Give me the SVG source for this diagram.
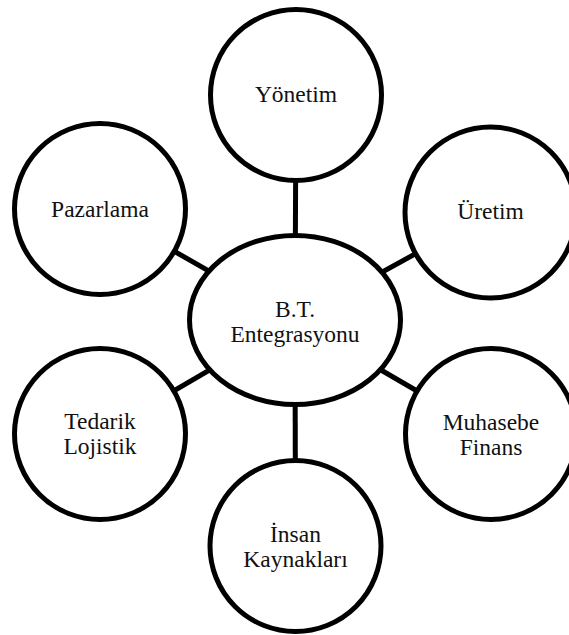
<svg xmlns="http://www.w3.org/2000/svg" width="569" height="635" viewBox="0 0 569 635">
<style>
.n{fill:#fff;stroke:#000;stroke-width:5}
.c line{stroke:#000;stroke-width:5}
text{font-family:"Liberation Serif","Times New Roman",serif;font-size:23.5px;fill:#111;text-anchor:middle}
</style>
<rect width="569" height="635" fill="#fff"/>
<g class="c" id="connectors">
<line x1="295" y1="320" x2="296" y2="95"/>
<line x1="295" y1="320" x2="490.5" y2="212.5"/>
<line x1="295" y1="320" x2="100" y2="209"/>
<line x1="295" y1="320" x2="100" y2="434"/>
<line x1="295" y1="320" x2="491" y2="434"/>
<line x1="295" y1="320" x2="295.5" y2="546"/>
</g>
<g id="yonetim"><circle class="n" cx="296" cy="95" r="85.5"/><text x="296" y="102">Yönetim</text></g>
<g id="uretim"><circle class="n" cx="490.5" cy="212.5" r="85.5"/><text x="490.5" y="219">Üretim</text></g>
<g id="pazarlama"><circle class="n" cx="100" cy="209" r="85.5"/><text x="100" y="217">Pazarlama</text></g>
<g id="tedarik"><circle class="n" cx="100" cy="434" r="85.5"/><text x="100" y="429">Tedarik</text><text x="100" y="454">Lojistik</text></g>
<g id="muhasebe"><circle class="n" cx="491" cy="434" r="85.5"/><text x="491" y="430">Muhasebe</text><text x="491" y="455">Finans</text></g>
<g id="insan"><circle class="n" cx="295.5" cy="546" r="85.5"/><text x="295.5" y="542">İnsan</text><text x="295.5" y="567">Kaynakları</text></g>
<g id="center"><ellipse class="n" cx="295" cy="320" rx="105.5" ry="84.5"/><text x="295" y="317">B.T.</text><text x="295" y="342">Entegrasyonu</text></g>
</svg>
